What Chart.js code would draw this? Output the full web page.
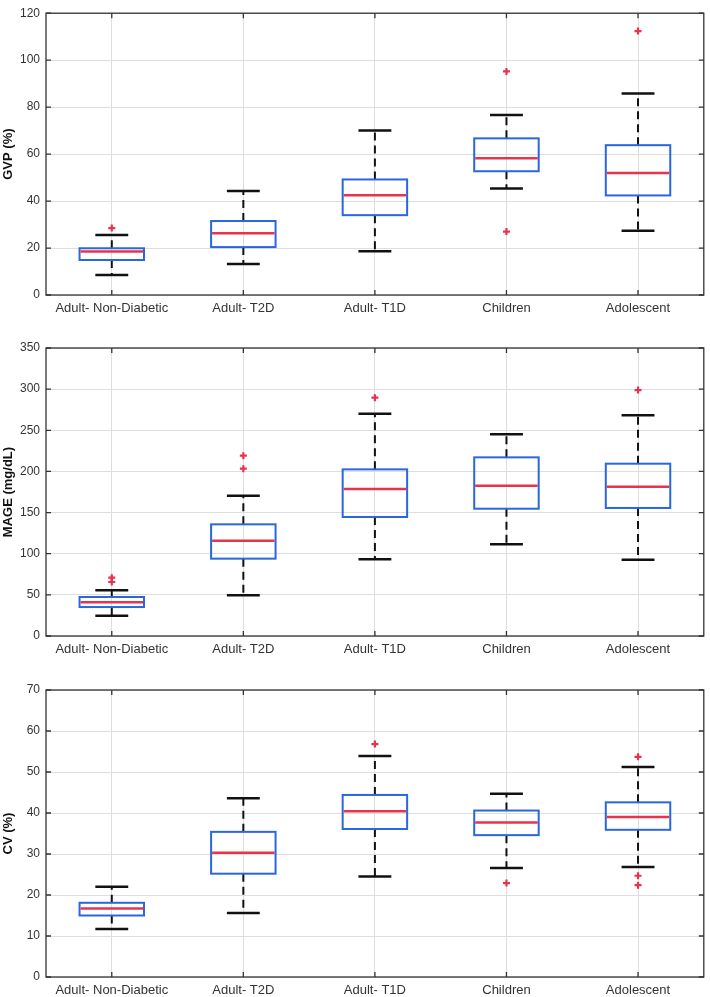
<!DOCTYPE html>
<html>
<head>
<meta charset="utf-8">
<script src="https://cdn.jsdelivr.net/npm/chart.js@4"></script>
<style>
body{margin:0;background:#fff;width:710px;height:997px;position:relative;overflow:hidden}
.panel{position:absolute;left:0;width:710px}
</style>
</head>
<body>
<div class="panel" style="top:0;height:320px"><canvas id="c1"></canvas></div>
<div class="panel" style="top:320px;height:340px"><canvas id="c2"></canvas></div>
<div class="panel" style="top:660px;height:337px"><canvas id="c3"></canvas></div>
<script>
var categorias = ['Adult- Non-Diabetic', 'Adult- T2D', 'Adult- T1D', 'Children', 'Adolescent']

// GVP (%)
var gvp_min = [8.5, 13.2, 18.6, 45.4, 27.4]
var gvp_q1  = [14.9, 20.4, 34.0, 52.7, 42.4]
var gvp_med = [18.5, 26.3, 42.5, 58.2, 52.0]
var gvp_q3  = [19.9, 31.5, 49.2, 66.7, 63.8]
var gvp_max = [25.6, 44.3, 70.0, 76.7, 85.8]
var gvp_out = [[0, 28.5], [3, 95.2], [3, 27.0], [4, 112.4]]
var gvp_ticks = [0, 120, 20]

// MAGE (mg/dL)
var mage_min = [24.7, 49.4, 93.2, 111.4, 92.8]
var mage_q1  = [35.2, 94.0, 144.6, 154.7, 155.6]
var mage_med = [40.9, 115.9, 178.6, 182.7, 181.5]
var mage_q3  = [47.4, 135.7, 202.5, 217.1, 209.4]
var mage_max = [55.5, 170.5, 270.2, 245.1, 268.2]
var mage_out = [[0, 70.9], [0, 65.6], [1, 219.2], [1, 203.4], [2, 289.6], [4, 298.9]]
var mage_ticks = [0, 350, 50]

// CV (%)
var cv_min = [11.7, 15.6, 24.5, 26.6, 26.8]
var cv_q1  = [15.0, 25.2, 36.1, 34.6, 35.9]
var cv_med = [16.7, 30.3, 40.4, 37.7, 39.0]
var cv_q3  = [18.1, 35.4, 44.4, 40.6, 42.6]
var cv_max = [22.0, 43.6, 53.9, 44.7, 51.2]
var cv_out = [[2, 56.8], [3, 22.9], [4, 53.7], [4, 24.7], [4, 22.4]]
var cv_ticks = [0, 70, 10]

var AZUL = '#2a66dd'
var ROJO = '#e8334d'
var fuente = 'Liberation Sans, Arial, sans-serif'

var cajas = {
  id: 'cajas',
  afterDatasetsDraw: function(chart, args, opts){
    var ctx = chart.ctx
    var x = chart.scales.x
    var y = chart.scales.y
    var paso = x.getPixelForValue(1) - x.getPixelForValue(0)
    ctx.save()
    for (var i = 0; i < categorias.length; i++){
      var cx = x.getPixelForValue(i)
      var hb = paso * 0.245
      var hc = paso * 0.125
      // bigotes
      ctx.strokeStyle = '#111'
      ctx.lineWidth = 2
      ctx.setLineDash([8, 5])
      ctx.beginPath()
      ctx.moveTo(cx, y.getPixelForValue(opts.q3[i]))
      ctx.lineTo(cx, y.getPixelForValue(opts.max[i]))
      ctx.moveTo(cx, y.getPixelForValue(opts.q1[i]))
      ctx.lineTo(cx, y.getPixelForValue(opts.min[i]))
      ctx.stroke()
      ctx.setLineDash([])
      ctx.lineWidth = 2.5
      ctx.beginPath()
      ctx.moveTo(cx - hc, y.getPixelForValue(opts.max[i]))
      ctx.lineTo(cx + hc, y.getPixelForValue(opts.max[i]))
      ctx.moveTo(cx - hc, y.getPixelForValue(opts.min[i]))
      ctx.lineTo(cx + hc, y.getPixelForValue(opts.min[i]))
      ctx.stroke()
      // caja encima de los bigotes
      var yt = y.getPixelForValue(opts.q3[i])
      var yb = y.getPixelForValue(opts.q1[i])
      ctx.strokeStyle = AZUL
      ctx.lineWidth = 2
      ctx.strokeRect(cx - hb, yt, hb * 2, yb - yt)
      // mediana
      ctx.strokeStyle = ROJO
      ctx.lineWidth = 2.5
      ctx.beginPath()
      ctx.moveTo(cx - hb + 1, y.getPixelForValue(opts.med[i]))
      ctx.lineTo(cx + hb - 1, y.getPixelForValue(opts.med[i]))
      ctx.stroke()
    }
    ctx.restore()
  },
  afterDraw: function(chart){
    var ctx = chart.ctx
    var a = chart.chartArea
    var x = chart.scales.x
    var y = chart.scales.y
    ctx.save()
    ctx.strokeStyle = '#333'
    ctx.lineWidth = 1.3
    ctx.strokeRect(a.left, a.top, a.right - a.left, a.bottom - a.top)
    ctx.beginPath()
    for (var i = 0; i < categorias.length; i++){
      var px = x.getPixelForValue(i)
      ctx.moveTo(px, a.bottom); ctx.lineTo(px, a.bottom - 5)
      ctx.moveTo(px, a.top); ctx.lineTo(px, a.top + 5)
    }
    y.ticks.forEach(function(t){
      var py = y.getPixelForValue(t.value)
      ctx.moveTo(a.left, py); ctx.lineTo(a.left + 5, py)
      ctx.moveTo(a.right, py); ctx.lineTo(a.right - 5, py)
    })
    ctx.stroke()
    ctx.restore()
  }
}

function grafico_caja(id, titulo, mins, q1, med, q3, maxs, outs, ticks, arriba, altoEje){
  var puntos = []
  for (let o of outs){
    puntos.push({x: categorias[o[0]], y: o[1]})
  }
  var cajasData = []
  for (var i = 0; i < categorias.length; i++){
    cajasData.push([q1[i], q3[i]])
  }
  new Chart(document.getElementById(id), {
    type: 'bar',
    data: {
      labels: categorias,
      datasets: [
        {
          type: 'line',
          data: puntos,
          showLine: false,
          pointStyle: 'cross',
          pointRadius: 3.5,
          borderColor: ROJO,
          pointBorderWidth: 2.2,
          order: 0
        },
        {
          data: cajasData,
          backgroundColor: 'rgba(0,0,0,0)',
          borderWidth: 0,
          barPercentage: 0.49,
          categoryPercentage: 1,
          order: 1
        }
      ]
    },
    options: {
      responsive: true,
      maintainAspectRatio: false,
      animation: false,
      layout: {padding: {top: arriba, right: 4, left: 0, bottom: 0}},
      plugins: {
        legend: {display: false},
        tooltip: {enabled: false},
        cajas: {min: mins, q1: q1, med: med, q3: q3, max: maxs}
      },
      scales: {
        x: {
          offset: true,
          grid: {color: '#dedede', offset: false, drawTicks: false},
          border: {display: false},
          ticks: {color: '#333', font: {family: fuente, size: 13}, padding: 6, maxRotation: 0},
          afterFit: function(s){ s.height = altoEje }
        },
        y: {
          min: ticks[0],
          max: ticks[1],
          grid: {color: '#dedede', drawTicks: false},
          border: {display: false},
          ticks: {stepSize: ticks[2], color: '#333', font: {family: fuente, size: 12}, padding: 6},
          title: {display: true, text: titulo, color: '#111', font: {family: fuente, size: 13, weight: 'bold'}, padding: {top: 1, bottom: 0}},
          afterFit: function(s){ s.width = 46 }
        }
      }
    },
    plugins: [cajas]
  })
}

grafico_caja('c1', 'GVP (%)', gvp_min, gvp_q1, gvp_med, gvp_q3, gvp_max, gvp_out, gvp_ticks, 7, 25)
grafico_caja('c2', 'MAGE (mg/dL)', mage_min, mage_q1, mage_med, mage_q3, mage_max, mage_out, mage_ticks, 28, 24)
grafico_caja('c3', 'CV (%)', cv_min, cv_q1, cv_med, cv_q3, cv_max, cv_out, cv_ticks, 30, 20)
</script>
</body>
</html>
